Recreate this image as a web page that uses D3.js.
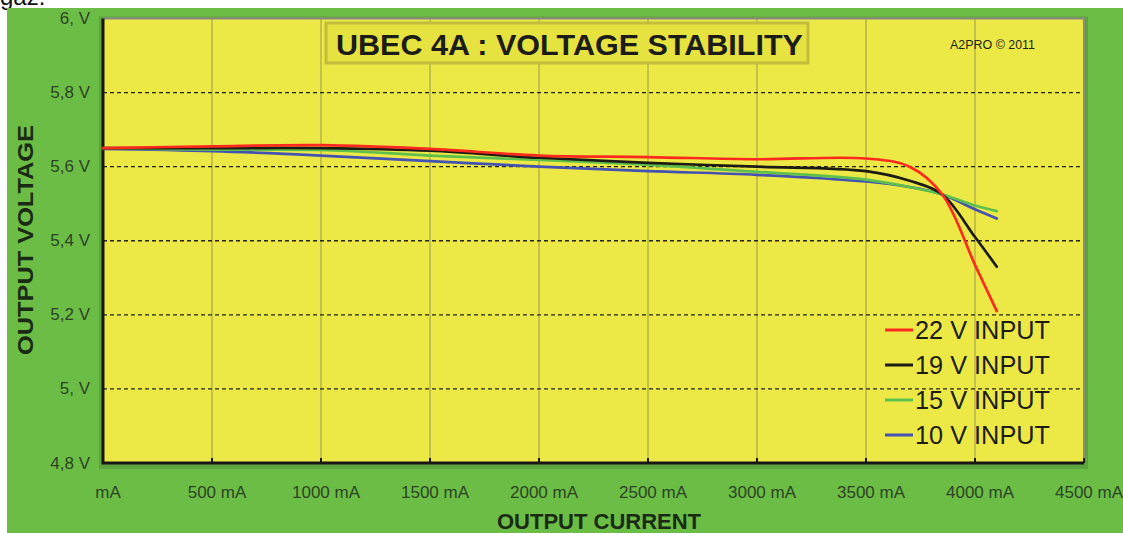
<!DOCTYPE html>
<html>
<head>
<meta charset="utf-8">
<script src="https://cdn.jsdelivr.net/npm/d3@7/dist/d3.min.js"></script>
<style>
  html, body { margin: 0; padding: 0; background: #fff; }
  svg { display: block; font-family: "Liberation Sans", Arial, sans-serif; }
</style>
</head>
<body>
<svg id="chart" width="1123" height="533"></svg>
<script>
// output current (mA) at which the voltage was read
const currents = [0, 500, 1000, 1500, 2000, 2500, 3000, 3500, 3700, 3850, 4000, 4100];

// output voltage for each input voltage
const v22 = [5.650, 5.655, 5.658, 5.648, 5.630, 5.626, 5.620, 5.622, 5.600, 5.525, 5.335, 5.210];
const v19 = [5.650, 5.650, 5.650, 5.643, 5.624, 5.610, 5.600, 5.588, 5.562, 5.525, 5.410, 5.330];
const v15 = [5.650, 5.646, 5.645, 5.630, 5.618, 5.605, 5.586, 5.565, 5.545, 5.525, 5.495, 5.480];
const v10 = [5.648, 5.642, 5.630, 5.615, 5.600, 5.588, 5.578, 5.560, 5.545, 5.525, 5.485, 5.460];

const seriesNames = ["22 V INPUT", "19 V INPUT", "15 V INPUT", "10 V INPUT"];
const seriesColors = ["#ff2a1e", "#1c1c14", "#5ec04c", "#4452b4"];

const xTicks = [0, 500, 1000, 1500, 2000, 2500, 3000, 3500, 4000, 4500];
const xTickLabels = ["mA", "500 mA", "1000 mA", "1500 mA", "2000 mA", "2500 mA", "3000 mA", "3500 mA", "4000 mA", "4500 mA"];
const yTicks = [4.8, 5.0, 5.2, 5.4, 5.6, 5.8, 6.0];
const yTickLabels = ["4,8 V", "5, V", "5,2 V", "5,4 V", "5,6 V", "5,8 V", "6, V"];

const svg = d3.select("#chart");
const m = { left: 103, right: 1084, top: 18.5, bottom: 463 };

const x = d3.scaleLinear().domain([0, 4500]).range([m.left, m.right]);
const y = d3.scaleLinear().domain([4.8, 6.0]).range([m.bottom, m.top]);

// cut-off caption above the chart
svg.append("text")
  .attr("x", 0).attr("y", 5)
  .style("font-size", "24px").style("fill", "#111")
  .text("gaz.");

// green panel
svg.append("rect")
  .attr("x", 7).attr("y", 8).attr("width", 1116).attr("height", 525)
  .attr("fill", "#6cbd45");

// soft shadow behind plot
svg.append("rect")
  .attr("x", m.left - 4).attr("y", m.top - 2).attr("width", m.right - m.left + 8).attr("height", m.bottom - m.top + 8)
  .attr("fill", "#5ea43e");

// plot background
svg.append("rect")
  .attr("x", m.left).attr("y", m.top).attr("width", m.right - m.left).attr("height", m.bottom - m.top)
  .attr("fill", "#ece946");

// vertical grid
svg.append("g")
  .selectAll("line")
  .data(xTicks.filter(d => d > 0 && d < 4500))
  .join("line")
  .attr("x1", d => x(d)).attr("x2", d => x(d))
  .attr("y1", m.top).attr("y2", m.bottom)
  .attr("stroke", "#b7b24a").attr("stroke-width", 1.5);

// horizontal dashed grid
svg.append("g")
  .selectAll("line")
  .data(yTicks.filter(d => d > 4.8 && d < 6.0))
  .join("line")
  .attr("x1", m.left).attr("x2", m.right)
  .attr("y1", d => y(d)).attr("y2", d => y(d))
  .attr("stroke", "#222").attr("stroke-width", 1.3)
  .attr("stroke-dasharray", "4,3");

// plot frame: grey top/right, black left/bottom
svg.append("path")
  .attr("d", `M${m.left},${m.top}H${m.right}V${m.bottom}`)
  .attr("fill", "none").attr("stroke", "#8a8a80").attr("stroke-width", 2);
svg.append("path")
  .attr("d", `M${m.left},${m.top}V${m.bottom}H${m.right}`)
  .attr("fill", "none").attr("stroke", "#161616").attr("stroke-width", 3);

// small tick marks on the x axis
svg.append("g")
  .selectAll("line")
  .data(xTicks.filter(d => d > 0))
  .join("line")
  .attr("x1", d => x(d)).attr("x2", d => x(d))
  .attr("y1", m.bottom).attr("y2", m.bottom - 5)
  .attr("stroke", "#161616").attr("stroke-width", 2);

// tick labels
svg.append("g")
  .selectAll("text")
  .data(yTicks)
  .join("text")
  .attr("x", 90).attr("y", d => y(d))
  .attr("text-anchor", "end").attr("dominant-baseline", "central")
  .style("font-size", "17px").style("fill", "#2c4424")
  .text((d, i) => yTickLabels[i]);

svg.append("g")
  .selectAll("text")
  .data(xTicks)
  .join("text")
  .attr("x", d => x(d) + 5).attr("y", 492)
  .attr("text-anchor", "middle").attr("dominant-baseline", "central")
  .style("font-size", "17px").style("fill", "#2c4424")
  .text((d, i) => xTickLabels[i]);

// axis titles
svg.append("text")
  .attr("x", 599).attr("y", 529)
  .attr("text-anchor", "middle")
  .style("font-size", "22px").style("font-weight", "bold").style("fill", "#1a2a14")
  .text("OUTPUT CURRENT");

svg.append("text")
  .attr("transform", "translate(33,240) rotate(-90)")
  .attr("text-anchor", "middle")
  .style("font-size", "22px").style("font-weight", "bold").style("fill", "#1a2a14")
  .attr("textLength", 230).attr("lengthAdjust", "spacingAndGlyphs")
  .text("OUTPUT VOLTAGE");

// title box
svg.append("rect")
  .attr("x", 326).attr("y", 23).attr("width", 482).attr("height", 40)
  .attr("fill", "#e6e240").attr("stroke", "#c2bc3a").attr("stroke-width", 3);
svg.append("text")
  .attr("x", 336).attr("y", 55)
  .style("font-size", "30px").style("font-weight", "bold").style("fill", "#1c1c18")
  .attr("textLength", 467).attr("lengthAdjust", "spacingAndGlyphs")
  .text("UBEC 4A : VOLTAGE STABILITY");

svg.append("text")
  .attr("x", 950).attr("y", 49)
  .style("font-size", "12px").style("fill", "#222")
  .attr("textLength", 85).attr("lengthAdjust", "spacingAndGlyphs")
  .text("A2PRO \u00a9 2011");

// series lines
const series = [v22, v19, v15, v10];
const line = d3.line()
  .x((d, i) => x(currents[i]))
  .y(d => y(d))
  .curve(d3.curveCatmullRom.alpha(0.5));

// draw from back to front so red ends up on top like the original
svg.append("g")
  .selectAll("path")
  .data(series.map((s, i) => ({ values: s, color: seriesColors[i] })).reverse())
  .join("path")
  .attr("d", d => line(d.values))
  .attr("fill", "none")
  .attr("stroke", d => d.color)
  .attr("stroke-width", 2.7)
  .attr("stroke-linecap", "round");

// legend
const legendY = [330, 365, 400, 435];
const legend = svg.append("g")
  .selectAll("g")
  .data(seriesNames)
  .join("g")
  .attr("transform", (d, i) => `translate(885,${legendY[i]})`);
legend.append("line")
  .attr("x1", 0).attr("x2", 28)
  .attr("stroke", (d, i) => seriesColors[i]).attr("stroke-width", 3);
legend.append("text")
  .attr("x", 30).attr("y", 9)
  .style("font-size", "25px").style("fill", "#1c1c14")
  .attr("textLength", 135).attr("lengthAdjust", "spacingAndGlyphs")
  .text(d => d);
</script>
</body>
</html>
